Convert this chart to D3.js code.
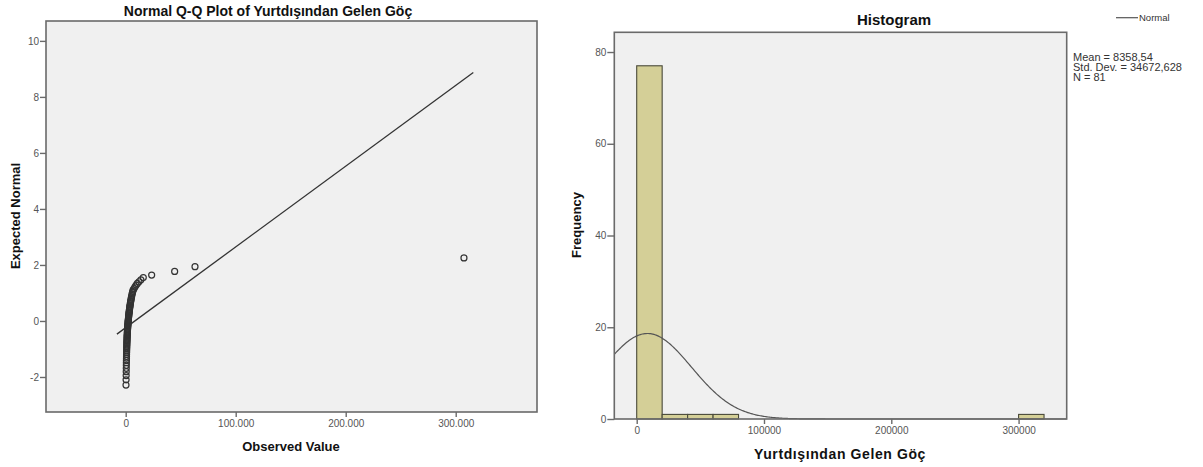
<!DOCTYPE html>
<html>
<head>
<meta charset="utf-8">
<script src="https://cdn.jsdelivr.net/npm/d3@7"></script>
<style>
  html, body { margin: 0; padding: 0; background: #fff; }
  svg { display: block; font-family: "Liberation Sans", Arial, sans-serif; }
</style>
</head>
<body>
<svg id="chart" width="1203" height="467"></svg>
<script>
// ---------------- DATA ----------------
// Q-Q plot: observed values (sorted) and expected normal values
const observedValues = [
  270, 350, 420, 480, 530, 580, 620, 660, 700, 740,
  780, 820, 860, 900, 940, 980, 1020, 1060, 1100, 1140,
  1180, 1220, 1260, 1300, 1340, 1390, 1440, 1490, 1540, 1590,
  1640, 1700, 1760, 1820, 1880, 1940, 2000, 2070, 2140, 2210,
  2280, 2360, 2440, 2520, 2600, 2690, 2780, 2870, 2960, 3060,
  3160, 3270, 3380, 3500, 3620, 3750, 3880, 4020, 4170, 4330,
  4500, 4680, 4870, 5080, 5300, 5550, 5820, 6120, 6450, 6800,
  7600, 8500, 9500, 10600, 12000, 13800, 16000,
  23600, 44500, 63000, 307500
];
const expectedNormal = [
  -2.29, -2.10, -1.95, -1.81, -1.69, -1.58, -1.49, -1.41, -1.33, -1.26,
  -1.19, -1.13, -1.07, -1.01, -0.96, -0.91, -0.86, -0.82, -0.77, -0.73,
  -0.69, -0.65, -0.61, -0.57, -0.53, -0.50, -0.46, -0.42, -0.39, -0.36,
  -0.32, -0.29, -0.26, -0.22, -0.19, -0.16, -0.13, -0.10, -0.06, -0.03,
  0.00, 0.03, 0.06, 0.10, 0.13, 0.16, 0.19, 0.22, 0.26, 0.29,
  0.32, 0.36, 0.39, 0.42, 0.46, 0.50, 0.53, 0.57, 0.61, 0.65,
  0.69, 0.73, 0.77, 0.82, 0.86, 0.91, 0.96, 1.01, 1.06, 1.11,
  1.16, 1.22, 1.28, 1.34, 1.40, 1.47, 1.55,
  1.64, 1.77, 1.94, 2.25
];
// Reference line endpoints [observed, expected]
const qqLine = [[-8000, -0.47], [316000, 8.87]];
const qqXTicks = [0, 100000, 200000, 300000];
const qqYTicks = [-2, 0, 2, 4, 6, 8, 10];

// Histogram
const binStarts = [0, 20000, 40000, 60000, 300000];
const binCounts = [77, 1, 1, 1, 1];
const binWidth = 20000;
const histXTicks = [0, 100000, 200000, 300000];
const histYTicks = [0, 20, 40, 60, 80];
const statMean = 8358.54;
const statSD = 34672.628;
const statN = 81;
const statLabels = ["Mean = 8358,54", "Std. Dev. = 34672,628", "N = 81"];

// ---------------- DRAW ----------------
const svg = d3.select("#chart");
const bg = "#f0f0f0", frameCol = "#6a6a6a", tickCol = "#555";

const dotLocale = d3.formatLocale({decimal: ",", thousands: ".", grouping: [3], currency: ["", ""], minus: "-"});
const fmtDot = dotLocale.format(",d");

function frame(x0, y0, x1, y1) {
  svg.append("rect").attr("x", x0).attr("y", y0).attr("width", x1 - x0).attr("height", y1 - y0)
    .attr("fill", bg).attr("stroke", "none");
  return () => svg.append("rect").attr("x", x0).attr("y", y0).attr("width", x1 - x0).attr("height", y1 - y0)
    .attr("fill", "none").attr("stroke", frameCol).attr("stroke-width", 1.6);
}
function styleAxis(g) {
  g.select(".domain").remove();
  g.selectAll(".tick line").attr("stroke", frameCol).attr("stroke-width", 1.4);
  g.selectAll(".tick text").attr("fill", tickCol).style("font-size", "10px")
    .style("font-family", "'Liberation Sans', Arial, sans-serif");
}

// ---- Q-Q plot ----
const qL = 46, qT = 21, qR = 537, qB = 412;
const xQ = d3.scaleLinear().domain([-72450, 373900]).range([qL, qR]);
const yQ = d3.scaleLinear().domain([-3.25, 10.71]).range([qB, qT]);
const qFrame = frame(qL, qT, qR, qB);

svg.append("g")
  .selectAll("circle").data(observedValues.map((v, i) => [v, expectedNormal[i]]))
  .join("circle")
  .attr("cx", d => xQ(d[0])).attr("cy", d => yQ(d[1])).attr("r", 3)
  .attr("fill", "none").attr("stroke", "#333").attr("stroke-width", 1.2);

svg.append("path").datum(qqLine)
  .attr("d", d3.line().x(d => xQ(d[0])).y(d => yQ(d[1])))
  .attr("stroke", "#333").attr("stroke-width", 1.3).attr("fill", "none");

qFrame();
svg.append("g").attr("transform", `translate(0,${qB})`)
  .call(d3.axisBottom(xQ).tickValues(qqXTicks).tickFormat(d => d === 0 ? "0" : fmtDot(d)).tickSize(5).tickPadding(3))
  .call(styleAxis);
svg.append("g").attr("transform", `translate(${qL},0)`)
  .call(d3.axisLeft(yQ).tickValues(qqYTicks).tickFormat(d => String(d)).tickSize(6).tickPadding(1))
  .call(styleAxis);

svg.append("text").attr("x", 268).attr("y", 16).attr("text-anchor", "middle")
  .style("font-size", "14px").style("font-weight", "bold").attr("fill", "#111")
  .text("Normal Q-Q Plot of Yurtdışından Gelen Göç");
svg.append("text").attr("x", 291).attr("y", 451).attr("text-anchor", "middle")
  .style("font-size", "13px").style("font-weight", "bold").attr("fill", "#111")
  .text("Observed Value");
svg.append("text").attr("transform", `translate(20,216) rotate(-90)`).attr("text-anchor", "middle")
  .style("font-size", "13px").style("font-weight", "bold").attr("fill", "#111")
  .text("Expected Normal");

// ---- Histogram ----
const hL = 614.3, hT = 32.3, hR = 1066.7, hB = 419;
const xH = d3.scaleLinear().domain([-17600, 337800]).range([hL, hR]);
const yH = d3.scaleLinear().domain([0, 84.3]).range([hB, hT]);
const hFrame = frame(hL, hT, hR, hB);

svg.append("g").selectAll("rect").data(binStarts.map((s, i) => ({s, c: binCounts[i]})))
  .join("rect")
  .attr("x", d => xH(d.s)).attr("width", d => xH(d.s + binWidth) - xH(d.s))
  .attr("y", d => yH(d.c)).attr("height", d => yH(0) - yH(d.c))
  .attr("fill", "#d4cf97").attr("stroke", "#4a4a3a").attr("stroke-width", 1.1);

// Fitted normal curve from the displayed statistics
const curveXs = d3.range(0, 401).map(i => xH.domain()[0] + (xH.domain()[1] - xH.domain()[0]) * i / 400);
const pdfScale = statN * binWidth / (statSD * Math.sqrt(2 * Math.PI));
const curvePts = curveXs.map(x => [x, pdfScale * Math.exp(-0.5 * ((x - statMean) / statSD) ** 2)]);
svg.append("path").datum(curvePts)
  .attr("d", d3.line().x(d => xH(d[0])).y(d => yH(d[1])))
  .attr("stroke", "#555").attr("stroke-width", 1.2).attr("fill", "none");

hFrame();
svg.append("g").attr("transform", `translate(0,${hB})`)
  .call(d3.axisBottom(xH).tickValues(histXTicks).tickFormat(d3.format("d")).tickSize(5).tickPadding(3))
  .call(styleAxis);
svg.append("g").attr("transform", `translate(${hL},0)`)
  .call(d3.axisLeft(yH).tickValues(histYTicks).tickFormat(d => String(d)).tickSize(7).tickPadding(1))
  .call(styleAxis);

svg.append("text").attr("x", 894).attr("y", 25).attr("text-anchor", "middle")
  .style("font-size", "15px").style("font-weight", "bold").attr("fill", "#111")
  .text("Histogram");
svg.append("text").attr("x", 840).attr("y", 459).attr("text-anchor", "middle")
  .style("font-size", "14px").style("font-weight", "bold").style("letter-spacing", "0.6px").attr("fill", "#111")
  .text("Yurtdışından Gelen Göç");
svg.append("text").attr("transform", `translate(581,225) rotate(-90)`).attr("text-anchor", "middle")
  .style("font-size", "13px").style("font-weight", "bold").attr("fill", "#111")
  .text("Frequency");

// Legend
svg.append("line").attr("x1", 1116).attr("x2", 1138).attr("y1", 17.7).attr("y2", 17.7)
  .attr("stroke", "#555").attr("stroke-width", 1.2);
svg.append("text").attr("x", 1139).attr("y", 21).style("font-size", "9.5px").attr("fill", "#333").text("Normal");

svg.append("g").selectAll("text").data(statLabels).join("text")
  .attr("x", 1073).attr("y", (d, i) => 61 + i * 10)
  .style("font-size", "11px").attr("fill", "#333")
  .text(d => d);
</script>
</body>
</html>
